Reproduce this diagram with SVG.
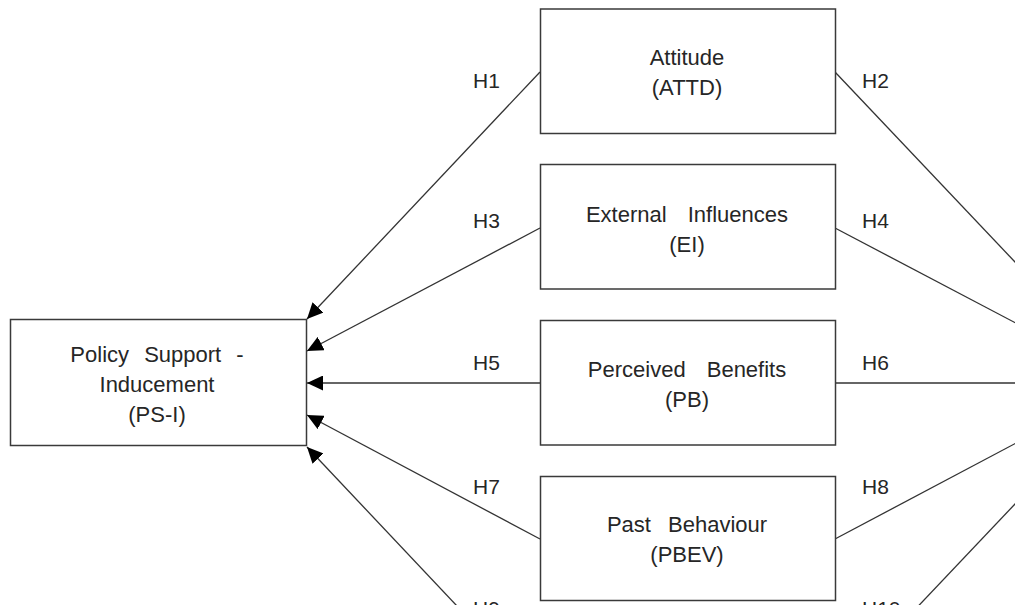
<svg xmlns="http://www.w3.org/2000/svg" width="1015" height="605" viewBox="0 0 1015 605">
<style>
.box{fill:#fff;stroke:#3a3a3a;stroke-width:1.5}
.t{font-family:"Liberation Sans",Arial,sans-serif;font-size:22px;fill:#262626;text-anchor:middle}
.lbl{font-family:"Liberation Sans",Arial,sans-serif;font-size:21px;fill:#262626}
.c{stroke:#333;stroke-width:1.3;fill:none}
.a{marker-end:url(#ah)}
</style>
<defs>
<marker id="ah" markerUnits="userSpaceOnUse" markerWidth="17" markerHeight="15" refX="16" refY="7.5" orient="auto">
<path d="M0,0 L16,7.5 L0,15 z" fill="#000"/>
</marker>
</defs>
<rect width="1015" height="605" fill="#fff"/>
<g id="connectors">
<line class="c a" x1="540" y1="72" x2="307" y2="319"/>
<line class="c a" x1="540" y1="228" x2="307" y2="351"/>
<line class="c a" x1="540" y1="383" x2="307" y2="383"/>
<line class="c a" x1="540" y1="539" x2="307" y2="415"/>
<line class="c a" x1="540" y1="694" x2="307" y2="447"/>
<line class="c" x1="835" y1="72" x2="1069" y2="319"/>
<line class="c" x1="835" y1="228" x2="1069" y2="351"/>
<line class="c" x1="835" y1="383" x2="1069" y2="383"/>
<line class="c" x1="835" y1="539" x2="1069" y2="415"/>
<line class="c" x1="835" y1="694" x2="1069" y2="447"/>
</g>
<g id="labels">
<text class="lbl" x="473" y="88">H1</text>
<text class="lbl" x="862" y="88">H2</text>
<text class="lbl" x="473" y="228">H3</text>
<text class="lbl" x="862" y="228">H4</text>
<text class="lbl" x="473" y="370">H5</text>
<text class="lbl" x="862" y="370">H6</text>
<text class="lbl" x="473" y="494">H7</text>
<text class="lbl" x="862" y="494">H8</text>
<text class="lbl" x="473" y="616">H9</text>
<text class="lbl" x="862" y="616">H10</text>
</g>
<g id="ps-i">
<rect class="box" x="10.5" y="319.5" width="296" height="126"/>
<text class="t" x="157" y="362" word-spacing="9">Policy Support -</text>
<text class="t" x="157" y="392">Inducement</text>
<text class="t" x="157" y="422">(PS-I)</text>
</g>
<g id="attd">
<rect class="box" x="540.5" y="9" width="295" height="124.5"/>
<text class="t" x="687" y="65">Attitude</text>
<text class="t" x="687" y="95">(ATTD)</text>
</g>
<g id="ei">
<rect class="box" x="540.5" y="164.5" width="295" height="124.5"/>
<text class="t" x="687" y="221.5" word-spacing="15">External Influences</text>
<text class="t" x="687" y="251.5">(EI)</text>
</g>
<g id="pb">
<rect class="box" x="540.5" y="320.5" width="295" height="124.5"/>
<text class="t" x="687" y="377" word-spacing="15">Perceived Benefits</text>
<text class="t" x="687" y="407">(PB)</text>
</g>
<g id="pbev">
<rect class="box" x="540.5" y="476.5" width="295" height="124"/>
<text class="t" x="687" y="532" word-spacing="11">Past Behaviour</text>
<text class="t" x="687" y="562">(PBEV)</text>
</g>
</svg>
